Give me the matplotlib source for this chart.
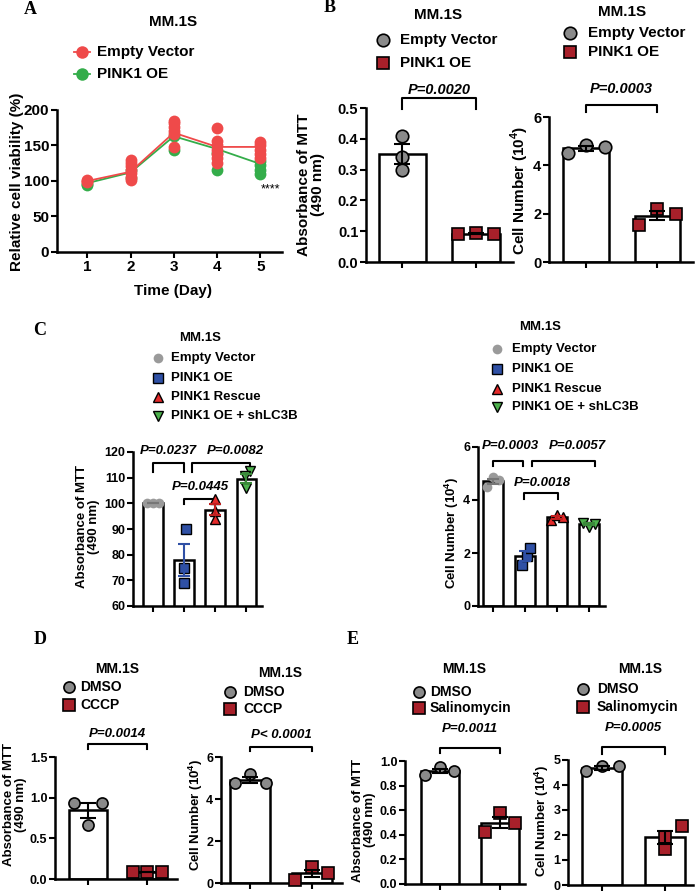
import numpy as np
import matplotlib
matplotlib.use("Agg")
import matplotlib.pyplot as plt
from matplotlib.lines import Line2D

plt.rcParams["font.family"] = ["Liberation Sans", "DejaVu Sans"]
plt.rcParams["font.weight"] = "bold"
plt.rcParams["axes.labelweight"] = "bold"
plt.rcParams["mathtext.fontset"] = "custom"
plt.rcParams["mathtext.bf"] = "Liberation Sans:bold"
plt.rcParams["mathtext.rm"] = "Liberation Sans:bold"

W, H = 700, 892

# ---------------- data ----------------
# A: relative viability over days
days = [1, 2, 3, 4, 5]
ev_mean_a = [100, 113, 168, 148, 148]
oe_mean_a = [97, 112, 163, 145, 124]
ev_reps_a = [[99, 100, 101], [101, 106, 111, 116, 121, 126, 130],
             [148, 166, 171, 176, 181, 184], [126, 132, 138, 144, 150, 156, 174],
             [132, 138, 144, 150, 155]]
oe_reps_a = [[94, 96], [104, 115], [143, 163], [116, 140], [110, 116, 122, 128]]

# B: MTT and cell number
b_mtt_ev = [0.41, 0.34, 0.30]
b_mtt_oe = [0.09, 0.095, 0.09]
b_cell_ev = [4.5, 4.85, 4.75]
b_cell_oe = [1.55, 2.2, 2.0]

# C: rescue experiments
c_mtt = [[100, 100, 100], [90, 75, 69], [101.5, 97, 94], [112.5, 110.5, 106]]
c_cell = [[4.5, 4.85, 4.75], [1.55, 1.9, 2.2], [3.25, 3.45, 3.35], [3.15, 3.0, 3.1]]

# D: CCCP
d_mtt = [[0.94, 0.66, 0.94], [0.08, 0.08, 0.08]]
d_cell = [[4.75, 5.2, 4.75], [0.15, 0.75, 0.5]]

# E: Salinomycin
e_mtt = [[0.89, 0.95, 0.92], [0.42, 0.58, 0.50]]
e_cell = [[4.55, 4.75, 4.75], [1.92, 1.44, 2.36]]

# ---------------- styles ----------------
RED_A, GREEN_A = "#ef4a4a", "#34ad4a"
EV = dict(marker="o", mfc="#8a8a8a", mec="black", mew=1.2)
OE = dict(marker="s", mfc="#a8202a", mec="black", mew=1.2)
C_STY = [dict(marker="o", mfc="#9a9a9a", mec="none", mew=0),
         dict(marker="s", mfc="#2f50a5", mec="black", mew=1.0),
         dict(marker="^", mfc="#e42a2a", mec="black", mew=1.0),
         dict(marker="v", mfc="#4cb04c", mec="black", mew=1.0)]

fig = plt.figure(figsize=(W / 100, H / 100), dpi=100)


def box(l, t, r, b):
    return [l / W, 1 - b / H, (r - l) / W, (b - t) / H]


def fx(x):
    return x / W


def fy(y):
    return 1 - y / H


def style_axes(ax, fs):
    for s in ["top", "right"]:
        ax.spines[s].set_visible(False)
    for s in ["left", "bottom"]:
        ax.spines[s].set_linewidth(1.8)
    ax.tick_params(direction="out", length=4, width=1.5, labelsize=fs, pad=1.5)


def bar_panel(ax, groups, styles, offsets, xlim, ylim, yticks, ms, fs,
              ecolors=None, cap=5):
    means = [np.mean(g) for g in groups]
    sems = [np.std(g, ddof=1) / np.sqrt(len(g)) for g in groups]
    x = np.arange(len(groups))
    ax.bar(x, means, width=0.64, color="white", edgecolor="black",
           linewidth=1.8, zorder=1)
    for i, g in enumerate(groups):
        ax.plot(x[i] + np.array(offsets[i]), g, ls="none", ms=ms,
                zorder=3, clip_on=False, **styles[i])
        ec = "black" if ecolors is None else ecolors[i]
        ax.errorbar(x[i], means[i], yerr=sems[i], fmt="none", ecolor=ec,
                    elinewidth=1.5, capsize=cap, capthick=1.5, zorder=4)
    ax.set_xlim(*xlim)
    ax.set_ylim(*ylim)
    ax.set_yticks(yticks)
    ax.set_xticks(x)
    ax.set_xticklabels([])
    style_axes(ax, fs)


def bracket(ax, x1, x2, ytop, yleg, text, tx, ty, fs):
    ax.plot([x1, x1, x2, x2], [yleg, ytop, ytop, yleg], color="black",
            lw=1.5, clip_on=False)
    ax.text(tx, ty, text, ha="center", va="center", fontsize=fs,
            style="italic", weight="bold", clip_on=False)


def legend(title_xy, mx, tx, ys, entries, fs, ms):
    fig.text(fx(title_xy[0]), fy(title_xy[1]), "MM.1S", ha="center",
             va="center", fontsize=fs, weight="bold")
    for y, (label, sty) in zip(ys, entries):
        fig.add_artist(Line2D([fx(mx)], [fy(y)], transform=fig.transFigure,
                              ls="none", ms=ms, **sty))
        fig.text(fx(tx), fy(y), label, va="center", ha="left", fontsize=fs,
                 weight="bold")


def ylabel(x, y, text, fs):
    fig.text(fx(x), fy(y), text, rotation=90, ha="center", va="center",
             fontsize=fs, weight="bold", multialignment="center",
             linespacing=1.05)


def letter(x, y, s):
    fig.text(fx(x), fy(y), s, family="Liberation Serif", weight="bold",
             fontsize=13, ha="center", va="center")


CELL = r"Cell Number (10$^{\mathbf{4}}$)"
MTT = "Absorbance of MTT\n(490 nm)"

# ---------------- A ----------------
ax = fig.add_axes(box(57, 110, 282, 252))
for reps, mean, col, z in [(oe_reps_a, oe_mean_a, GREEN_A, 2),
                           (ev_reps_a, ev_mean_a, RED_A, 3)]:
    ax.plot(days, mean, color=col, lw=1.3, zorder=z)
    for d, r in zip(days, reps):
        ax.plot([d] * len(r), r, ls="none", marker="o", ms=8.5, mfc=col,
                mec="none", zorder=z)
ax.set_xlim(0.3, 5.5)
ax.set_ylim(0, 200)
ax.set_xticks(days)
ax.set_yticks([0, 50, 100, 150, 200])
style_axes(ax, 11)
ax.text(5.0, 88, "****", fontsize=9, ha="left", va="center", weight="normal",
        clip_on=False)
fig.text(fx(173), fy(291), "Time (Day)", ha="center", va="center",
         fontsize=11, weight="bold")
ylabel(17, 182, "Relative cell viability (%)", 11)
fig.add_artist(Line2D([fx(74), fx(90)], [fy(52), fy(52)],
                      transform=fig.transFigure, color=RED_A, lw=1.3))
fig.add_artist(Line2D([fx(74), fx(90)], [fy(74), fy(74)],
                      transform=fig.transFigure, color=GREEN_A, lw=1.3))
legend((173, 22), 82, 97, [52, 74],
       [("Empty Vector", dict(marker="o", mfc=RED_A, mec="none")),
        ("PINK1 OE", dict(marker="o", mfc=GREEN_A, mec="none"))], 11, 9)
letter(30, 10, "A")

# ---------------- B ----------------
ax = fig.add_axes(box(366, 108, 513, 262))
bar_panel(ax, [b_mtt_ev, b_mtt_oe], [EV, OE], [[0, 0, 0], [-0.24, 0, 0.24]],
          (-0.49, 1.5), (0, 0.5), [0, 0.1, 0.2, 0.3, 0.4, 0.5], 9, 10.5, cap=6)
bracket(ax, 0, 1, 0.532, 0.498, "P=0.0020", 0.5, 0.56, 10.5)
ylabel(311, 185, MTT, 11)
legend((438, 15), 383, 400, [40, 63],
       [("Empty Vector", EV), ("PINK1 OE", OE)], 11, 9)
letter(330, 8, "B")

ax = fig.add_axes(box(549, 117, 693, 262))
bar_panel(ax, [b_cell_ev, b_cell_oe], [EV, OE],
          [[-0.26, 0, 0.26], [-0.26, 0, 0.26]],
          (-0.52, 1.5), (0, 6), [0, 2, 4, 6], 9, 10.5, cap=6)
bracket(ax, 0, 1, 6.5, 6.2, "P=0.0003", 0.5, 7.15, 10.5)
ylabel(520, 190, CELL, 11)
legend((622, 12), 570, 588, [33, 52],
       [("Empty Vector", EV), ("PINK1 OE", OE)], 11, 9)

# ---------------- C ----------------
c_labels = ["Empty Vector", "PINK1 OE", "PINK1 Rescue", "PINK1 OE + shLC3B"]
c_err = ["#777777", "#2f50a5", "#c02020", "#3a8a3a"]

ax = fig.add_axes(box(133, 452, 262, 606))
bar_panel(ax, c_mtt, C_STY,
          [[-0.2, 0, 0.2], [0.05, 0, 0], [0, 0, 0], [0.1, -0.05, 0]],
          (-0.65, 3.5), (60, 120), [60, 70, 80, 90, 100, 110, 120], 7, 9,
          ecolors=c_err, cap=4)
bracket(ax, 0, 1, 115.7, 112.2, "P=0.0237", 0.48, 120.3, 9.5)
bracket(ax, 1.25, 3.1, 115.7, 112.2, "P=0.0082", 2.65, 120.3, 9.5)
bracket(ax, 1.0, 1.94, 101.7, 99.7, "P=0.0445", 1.5, 106.4, 9.5)
ylabel(88, 527, MTT, 9.5)
legend((200, 338), 158, 171, [358, 378, 397, 416],
       list(zip(c_labels, C_STY)), 9.5, 7)
letter(40, 330, "C")

ax = fig.add_axes(box(478, 447, 605, 606))
bar_panel(ax, c_cell, C_STY,
          [[-0.2, 0, 0.2], [-0.1, 0.05, 0.15], [-0.2, 0, 0.2], [-0.2, 0, 0.2]],
          (-0.47, 3.5), (0, 6), [0, 2, 4, 6], 7, 9,
          ecolors=c_err, cap=4)
bracket(ax, 0, 0.94, 5.47, 5.28, "P=0.0003", 0.53, 6.04, 9.5)
bracket(ax, 1.22, 3.19, 5.47, 5.28, "P=0.0057", 2.63, 6.04, 9.5)
bracket(ax, 0.97, 2.03, 4.26, 4.04, "P=0.0018", 1.53, 4.64, 9.5)
ylabel(452, 533, CELL, 9.5)
legend((540, 327), 497, 512, [349, 369, 389, 407],
       list(zip(c_labels, C_STY)), 9.5, 7)

# ---------------- D ----------------
ax = fig.add_axes(box(55, 757, 177, 879))
bar_panel(ax, d_mtt, [EV, OE], [[-0.24, 0, 0.24], [-0.24, 0, 0.24]],
          (-0.56, 1.5), (0, 1.5), [0, 0.5, 1.0, 1.5], 8, 9, cap=6)
bracket(ax, 0, 1, 1.66, 1.6, "P=0.0014", 0.5, 1.78, 9.5)
ylabel(15, 805, MTT, 9.5)
legend((117, 669), 69, 80, [687, 705], [("DMSO", EV), ("CCCP", OE)], 10, 8)
letter(40, 640, "D")

ax = fig.add_axes(box(221, 757, 342, 883))
bar_panel(ax, d_cell, [EV, OE], [[-0.25, 0, 0.25], [-0.28, 0, 0.25]],
          (-0.47, 1.48), (0, 6), [0, 2, 4, 6], 8, 9, cap=6)
bracket(ax, 0, 1, 6.48, 6.29, "P< 0.0001", 0.5, 7.05, 9.5)
ylabel(196, 815, CELL, 9.5)
legend((280, 673), 230, 243, [692, 709], [("DMSO", EV), ("CCCP", OE)], 10, 8)

# ---------------- E ----------------
ax = fig.add_axes(box(405, 761, 525, 884))
bar_panel(ax, e_mtt, [EV, OE], [[-0.24, 0, 0.24], [-0.25, 0, 0.25]],
          (-0.58, 1.42), (0, 1.0), [0, 0.2, 0.4, 0.6, 0.8, 1.0], 8, 9, cap=6)
bracket(ax, 0, 1, 1.106, 1.065, "P=0.0011", 0.5, 1.26, 9.5)
ylabel(364, 820, MTT, 9.5)
legend((464, 669), 419, 430, [692, 708],
       [("DMSO", EV), ("Salinomycin", OE)], 10, 8)
letter(353, 640, "E")

ax = fig.add_axes(box(568, 760, 693, 885))
bar_panel(ax, e_cell, [EV, OE], [[-0.25, 0, 0.27], [0, 0, 0.27]],
          (-0.54, 1.44), (0, 5), [0, 1, 2, 3, 4, 5], 8, 9, cap=6)
bracket(ax, 0, 1, 5.52, 5.24, "P=0.0005", 0.5, 6.28, 9.5)
ylabel(542, 821, CELL, 9.5)
legend((640, 669), 583, 597, [689, 707],
       [("DMSO", EV), ("Salinomycin", OE)], 10, 8)

fig.savefig("out.png", dpi=100)
